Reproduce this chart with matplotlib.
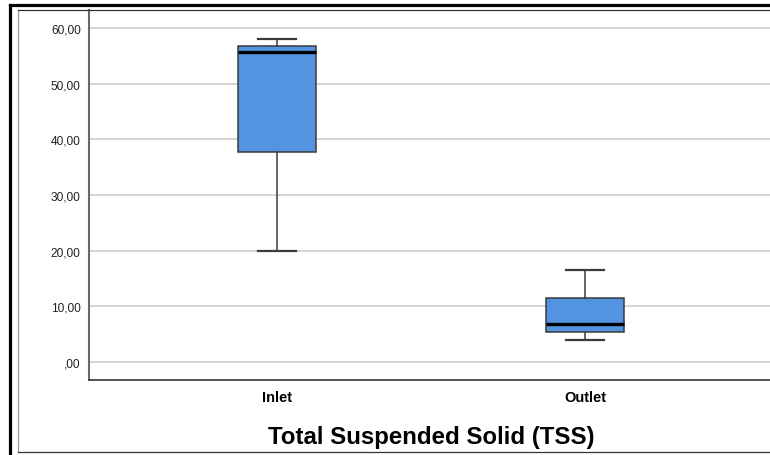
import matplotlib
matplotlib.use("Agg")
import matplotlib.pyplot as plt
from matplotlib.lines import Line2D
from matplotlib.ticker import FuncFormatter

plt.rcParams['font.family'] = ['Liberation Sans', 'DejaVu Sans']

# Box plot summary statistics for TSS
categories = ["Inlet", "Outlet"]
whisker_low = [20.0, 3.9]
q1 = [37.7, 5.5]
median = [55.6, 6.9]
q3 = [56.8, 11.6]
whisker_high = [58.0, 16.5]
y_ticks = [0, 10, 20, 30, 40, 50, 60]

W, H = 770, 456
fig = plt.figure(figsize=(W / 100, H / 100), dpi=100)
fig.patch.set_facecolor("white")

def fx(px):
    return px / W

def fy(py):
    return 1 - py / H

# Outer and inner frames
fig.add_artist(Line2D([fx(10), fx(10)], [fy(5.5), fy(460)], color="black", lw=2.3))
fig.add_artist(Line2D([fx(10), fx(780)], [fy(5.5), fy(5.5)], color="black", lw=2.3))
fig.add_artist(Line2D([fx(18), fx(18)], [fy(10.5), fy(453)], color="#9a9a9a", lw=0.9))
fig.add_artist(Line2D([fx(18), fx(780)], [fy(10.5), fy(10.5)], color="#333333", lw=0.9))
fig.add_artist(Line2D([fx(18), fx(780)], [fy(453), fy(453)], color="#333333", lw=0.9))

ax = fig.add_axes([fx(89), fy(381), fx(773) - fx(89), fy(11) - fy(381)])

stats = []
for i, name in enumerate(categories):
    stats.append(dict(label=name, whislo=whisker_low[i], q1=q1[i], med=median[i],
                      q3=q3[i], whishi=whisker_high[i], fliers=[]))

ax.bxp(stats, positions=[1, 2], widths=0.253, capwidths=0.125,
       showfliers=False, patch_artist=True,
       boxprops=dict(facecolor="#5294e2", edgecolor="#3a3a3a", linewidth=1.1),
       medianprops=dict(color="black", linewidth=2.4),
       whiskerprops=dict(color="#3a3a3a", linewidth=1.1),
       capprops=dict(color="#3a3a3a", linewidth=1.6))

ax.set_xlim(0.39, 2.61)
ax.set_ylim(-3.2, 63.2)
ax.set_yticks(y_ticks)

def comma_fmt(v, pos):
    s = ("%.2f" % v).replace(".", ",")
    return s[1:] if s.startswith("0") else s

ax.yaxis.set_major_formatter(FuncFormatter(comma_fmt))
ax.grid(axis="y", color="#d4d4d4", linewidth=1.4)
ax.set_axisbelow(True)

for s in ["top", "right"]:
    ax.spines[s].set_visible(False)
ax.spines["left"].set_color("#6a6a6a")
ax.spines["left"].set_linewidth(1.5)
ax.spines["bottom"].set_color("#333333")
ax.spines["bottom"].set_linewidth(1.2)

ax.tick_params(axis="y", length=0, pad=6, labelsize=8.6, labelcolor="#222222")
ax.tick_params(axis="x", length=0, pad=7, labelsize=10.5)
for lbl in ax.get_xticklabels():
    lbl.set_fontweight("bold")

ax.set_xlabel("Total Suspended Solid (TSS)", fontsize=17.3, fontweight="bold", labelpad=15)

fig.savefig("out.png", dpi=100, facecolor="white")
